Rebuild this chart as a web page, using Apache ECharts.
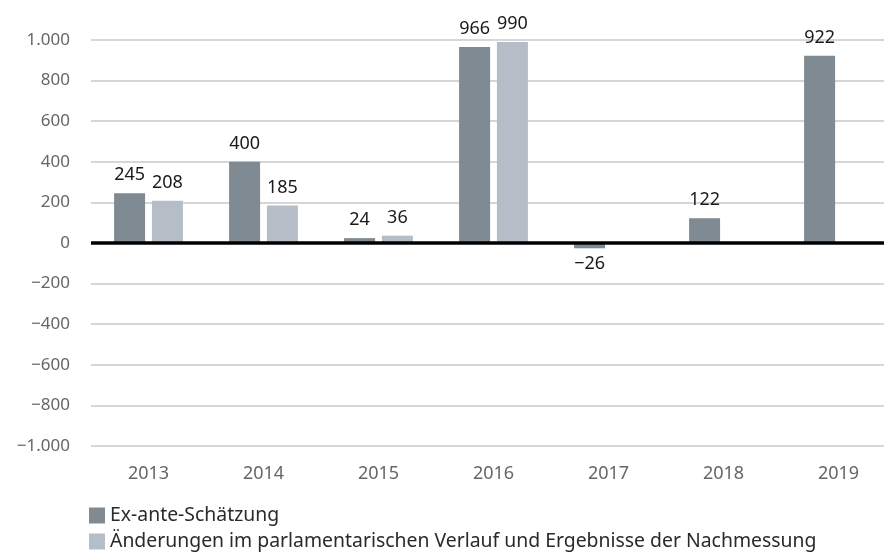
<!DOCTYPE html>
<html>
<head>
<meta charset="utf-8">
<script src="https://cdn.jsdelivr.net/npm/echarts@6/dist/echarts.min.js"></script>
<style>
  html, body { margin: 0; padding: 0; background: #fff; }
  #chart { width: 884px; height: 560px; }
</style>
</head>
<body>
<div id="chart"></div>
<script>
// Jahre
var years = ['2013', '2014', '2015', '2016', '2017', '2018', '2019'];
// Ex-ante-Schätzung
var exAnte = [245, 400, 24, 966, -26, 122, 922];
// Änderungen im parlamentarischen Verlauf und Ergebnisse der Nachmessung
var nachmessung = [208, 185, 36, 990, null, null, null];

var darkColor = '#7f8a92';
var lightColor = '#b5bec6';
var fontName = '"Noto Sans", "Open Sans", sans-serif';

// deutsche Zahlenschreibweise mit Typografie-Minus
function fmt(v) {
    var s = Math.abs(v).toString().replace(/\B(?=(\d{3})+(?!\d))/g, '.');
    return (v < 0 ? '\u2212' : '') + s;
}

function toItems(arr) {
    return arr.map(function (v) {
        if (v == null) return null;
        return {
            value: v,
            label: { position: v < 0 ? 'bottom' : 'top', distance: v < 0 ? 7 : 9 }
        };
    });
}

var barLabel = {
    show: true,
    color: '#1a1a1a',
    fontSize: 18,
    fontFamily: fontName,
    formatter: function (p) { return fmt(p.value); }
};

var myChart = echarts.init(document.getElementById('chart'));

var option = {
    animation: false,
    textStyle: { fontFamily: fontName },
    // Plotfläche läuft rechts über den Rand hinaus (wie im Original)
    grid: { left: 91, width: 805, top: 40, height: 406, outerBoundsMode: 'none', containLabel: false },
    legend: {
        orient: 'vertical',
        left: 89,
        top: 506,
        height: 60,
        padding: 0,
        itemWidth: 16,
        itemHeight: 16,
        itemGap: 7,
        icon: 'rect',
        data: ['Ex-ante-Schätzung', 'Änderungen im parlamentarischen Verlauf und Ergebnisse der Nachmessung'],
        textStyle: { fontSize: 19.4, color: '#2a2a2a', fontFamily: fontName }
    },
    xAxis: {
        type: 'category',
        data: years,
        axisLine: { show: false },
        axisTick: { show: false },
        axisLabel: { color: '#666', fontSize: 18, margin: 19, fontFamily: fontName }
    },
    yAxis: {
        type: 'value',
        min: -1000,
        max: 1000,
        interval: 200,
        axisLine: { show: false },
        axisTick: { show: false },
        splitLine: { lineStyle: { color: '#d6d6d6', width: 2 } },
        axisLabel: {
            color: '#666',
            fontSize: 17,
            margin: 21,
            fontFamily: fontName,
            formatter: fmt
        }
    },
    series: [
        {
            name: 'Ex-ante-Schätzung',
            type: 'bar',
            barWidth: 31,
            barGap: '22%',
            itemStyle: { color: darkColor },
            label: barLabel,
            data: toItems(exAnte),
            markLine: {
                silent: true,
                symbol: 'none',
                label: { show: false },
                lineStyle: { color: '#000', width: 3.5, type: 'solid' },
                data: [{ yAxis: 0 }],
                z: 10
            }
        },
        {
            name: 'Änderungen im parlamentarischen Verlauf und Ergebnisse der Nachmessung',
            type: 'bar',
            barWidth: 31,
            barGap: '22%',
            itemStyle: { color: lightColor },
            label: barLabel,
            data: toItems(nachmessung)
        }
    ]
};

myChart.setOption(option);
</script>
</body>
</html>
